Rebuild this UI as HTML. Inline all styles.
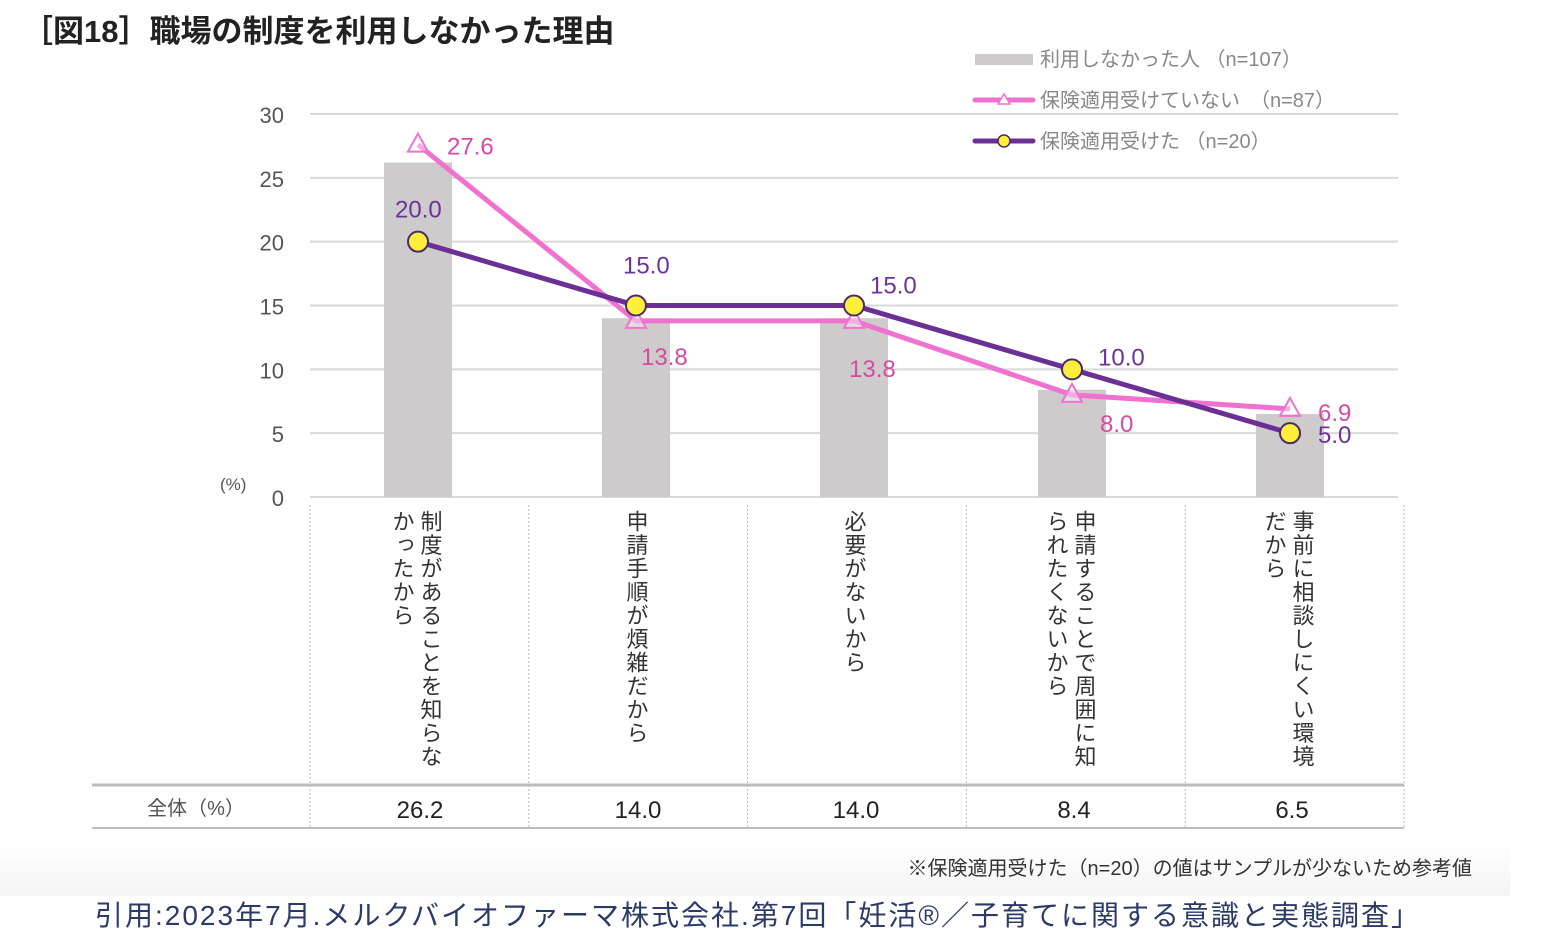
<!DOCTYPE html>
<html><head><meta charset="utf-8">
<style>
body{margin:0;background:#fff;width:1568px;height:952px;overflow:hidden;font-family:"Liberation Sans","Noto Sans CJK JP",sans-serif;}
.abs{position:absolute;white-space:nowrap;}
</style></head>
<body>
<div style="position:relative;width:1568px;height:952px;">
<div class="abs" style="left:22px;top:6px;font-size:31px;font-weight:bold;color:#222;">［図18］職場の制度を利用しなかった理由</div>
<div class="abs" style="left:0;top:840px;width:1510px;height:56px;background:linear-gradient(#fff,#f4f4f4);"></div>
<svg id="chart" width="1568" height="952" style="position:absolute;left:0;top:0" font-family="Liberation Sans, Noto Sans CJK JP, sans-serif"></svg>
<div class="abs" style="right:96px;top:852px;font-size:20px;color:#333;">※保険適用受けた（n=20）の値はサンプルが少ないため参考値</div>
<div class="abs" style="left:95px;top:894px;font-size:28px;letter-spacing:2px;color:#2b3a67;">引用:2023年7月.メルクバイオファーマ株式会社.第7回「妊活®／子育てに関する意識と実態調査」</div>
</div>
<script>
const categories=["制度があることを知らなかったから","申請手順が煩雑だから","必要がないから","申請することで周囲に知られたくないから","事前に相談しにくい環境だから"];
const catLines=[["制度があることを知らな","かったから"],["申請手順が煩雑だから"],["必要がないから"],["申請することで周囲に知","られたくないから"],["事前に相談しにくい環境","だから"]];
const barValues=[26.2,14.0,14.0,8.4,6.5];
const pinkValues=[27.6,13.8,13.8,8.0,6.9];
const purpleValues=[20.0,15.0,15.0,10.0,5.0];
const tableValues=["26.2","14.0","14.0","8.4","6.5"];
const yTicks=[0,5,10,15,20,25,30];
const NS="http://www.w3.org/2000/svg";
const svg=document.getElementById('chart');
function y(v){return 497-v*(383/30);}
function x(i){return 418+i*218;}
function mk(tag,attrs,parent){const e=document.createElementNS(NS,tag);for(const k in attrs)e.setAttribute(k,attrs[k]);(parent||svg).appendChild(e);return e;}
yTicks.forEach(t=>{
 const l=mk('line',{x1:310,x2:1398,y1:y(t),y2:y(t),stroke:'#d9d9d9','stroke-width':2});
 
 
 const tx=mk('text',{x:284,y:y(t)+9,'text-anchor':'end','font-size':22,fill:'#555'});tx.textContent=t;
 
 
});
const pu=mk('text',{x:220,y:490,'font-size':17,fill:'#555'});pu.textContent='(%)';


barValues.forEach((v,i)=>{
 const r=mk('rect',{x:x(i)-34,y:y(v),width:68,height:y(0)-y(v),fill:'#cdcbcb'});
 
 
});
for(let i=0;i<6;i++){const sx=310+i*218.8;mk('line',{x1:sx,x2:sx,y1:505,y2:828,stroke:'#bbb','stroke-dasharray':'2,2'});}
const tl=mk('line',{x1:92,x2:1404,y1:785,y2:785,stroke:'#bdbdbd','stroke-width':3});


mk('line',{x1:92,x2:1404,y1:828,y2:828,stroke:'#bdbdbd','stroke-width':2});
const th=mk('text',{x:196,y:815,'text-anchor':'middle','font-size':20,fill:'#555'});th.textContent='全体（%）';


tableValues.forEach((v,i)=>{
 const t=mk('text',{x:x(i)+2,y:818,'text-anchor':'middle','font-size':24,fill:'#222'});t.textContent=v;
 
 
});
catLines.forEach((lines,i)=>{
 lines.forEach((s,j)=>{
  const cx=x(i)+(lines.length>1?12:0)-j*28;
  const t=mk('text',{x:cx,y:510,'font-size':22,fill:'#333','letter-spacing':1.5,style:'writing-mode:vertical-rl;text-orientation:upright'});
  t.textContent=s;
  
  
 });
});
const pinkPts=pinkValues.map((v,i)=>x(i)+','+y(v)).join(' ');
const pl=mk('polyline',{points:pinkPts,fill:'none',stroke:'#ef72cf','stroke-width':5});


const purPts=purpleValues.map((v,i)=>x(i)+','+y(v)).join(' ');
const ul=mk('polyline',{points:purPts,fill:'none',stroke:'#6b2f96','stroke-width':5});


pinkValues.forEach((v,i)=>{
 const cx=x(i),cy=y(v);
 const p=mk('polygon',{points:`${cx},${cy-11} ${cx-10},${cy+7} ${cx+10},${cy+7}`,fill:'#fff','fill-opacity':0.4,stroke:'#ef72cf','stroke-width':2});
 
 
});
purpleValues.forEach((v,i)=>{
 const c=mk('circle',{cx:x(i),cy:y(v),r:10,fill:'#ffef3a',stroke:'#4a2a6a','stroke-width':2});
 
 
});
const pinkOff=[[29,10],[5,44],[-5,56],[28,37],[28,12]];
const purOff=[[-23,-24],[-13,-32],[16,-12],[26,-4],[28,10]];
pinkValues.forEach((v,i)=>{
 const t=mk('text',{x:x(i)+pinkOff[i][0],y:y(v)+pinkOff[i][1],'font-size':24,fill:'#d64aa3'});t.textContent=v.toFixed(1);
 
 
});
purpleValues.forEach((v,i)=>{
 const t=mk('text',{x:x(i)+purOff[i][0],y:y(v)+purOff[i][1],'font-size':24,fill:'#6b3399'});t.textContent=v.toFixed(1);
 
 
});
const lg=[['利用しなかった人','（n=107）'],['保険適用受けていない','（n=87）'],['保険適用受けた','（n=20）']];
mk('rect',{x:975,y:54,width:58,height:11,fill:'#cdcbcb'});
mk('line',{x1:975,x2:1033,y1:100,y2:100,stroke:'#ef72cf','stroke-width':5,'stroke-linecap':'round'});
mk('polygon',{points:'1004,94 998,104 1010,104',fill:'#fff',stroke:'#ef72cf','stroke-width':1.5});
mk('line',{x1:975,x2:1033,y1:141,y2:141,stroke:'#6b2f96','stroke-width':5,'stroke-linecap':'round'});
mk('circle',{cx:1004,cy:141,r:6,fill:'#ffef3a',stroke:'#4a2a6a','stroke-width':1.5});
lg.forEach((l,i)=>{
 const t=mk('text',{x:1040,y:66+i*41,'font-size':20,fill:'#888'});
 t.textContent=l[0]+(i==1?'　':' ')+l[1];
 
 
});
</script>
</body></html>
